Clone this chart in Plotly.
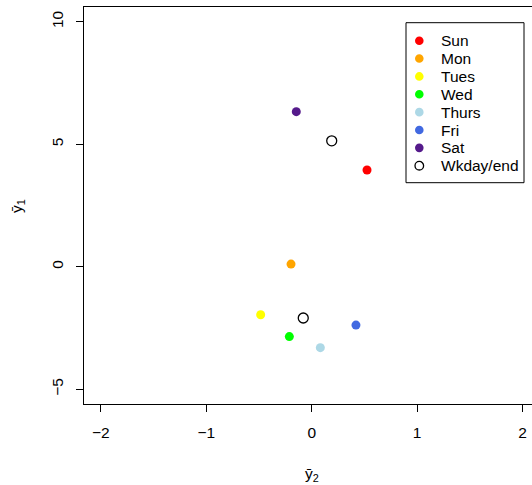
import plotly.graph_objects as go

days = ["Sun", "Mon", "Tues", "Wed", "Thurs", "Fri", "Sat"]
y2_day = [0.525, -0.196, -0.484, -0.212, 0.082, 0.42, -0.146]
y1_day = [3.95, 0.11, -1.96, -2.85, -3.30, -2.38, 6.33]
day_colors = ["#FF0000", "#FFA500", "#FFFF00", "#00FF00", "#ADD8E6", "#4169E1", "#551A8B"]

wk_label = "Wkday/end"
y2_wk = [0.19, -0.08]
y1_wk = [5.14, -2.09]

x_ticks = [-2, -1, 0, 1, 2]
y_ticks = [-5, 0, 5, 10]

FONT = "Liberation Sans, Arial, Helvetica, sans-serif"
W, H = 532, 485
ML, MR, MT, MB = 84, 0, 7, 81
PW, PH = W - ML - MR, H - MT - MB


def px_to_paper(px, py):
    return (px - ML) / PW, (H - MB - py) / PH


def fmt(t):
    return "\u2212" + str(-t) if t < 0 else str(t)


fig = go.Figure()
for d, xv, yv, c in zip(days, y2_day, y1_day, day_colors):
    fig.add_trace(go.Scatter(x=[xv], y=[yv], mode="markers", name=d, showlegend=False,
                             marker=dict(color=c, size=9, line=dict(width=0))))
fig.add_trace(go.Scatter(x=y2_wk, y=y1_wk, mode="markers", name=wk_label, showlegend=False,
                         marker=dict(color="black", size=10, symbol="circle-open",
                                     line=dict(color="black", width=1.3))))

# legend box (drawn like R's legend())
shapes = []
annotations = []
bx0, by0 = px_to_paper(406, 22.7)
bx1, by1 = px_to_paper(524, 182.7)
shapes.append(dict(type="rect", xref="paper", yref="paper", x0=bx0, x1=bx1, y0=by1, y1=by0,
                   line=dict(color="black", width=1), fillcolor="white", layer="above"))
labels = days + [wk_label]
for i, lab in enumerate(labels):
    py = 40.7 + i * 17.86
    mx, my = px_to_paper(419.3, py)
    tx, _ = px_to_paper(439, py)
    if i < len(days):
        shapes.append(dict(type="circle", xref="paper", yref="paper", xsizemode="pixel", ysizemode="pixel",
                           xanchor=mx, yanchor=my, x0=-4.3, x1=4.3, y0=-4.3, y1=4.3,
                           fillcolor=day_colors[i], line=dict(width=0), layer="above"))
    else:
        shapes.append(dict(type="circle", xref="paper", yref="paper", xsizemode="pixel", ysizemode="pixel",
                           xanchor=mx, yanchor=my, x0=-4.3, x1=4.3, y0=-4.3, y1=4.3,
                           fillcolor="rgba(0,0,0,0)", line=dict(width=1.3, color="black"), layer="above"))
    annotations.append(dict(text=lab, xref="paper", yref="paper", x=tx, y=my, xanchor="left",
                            yanchor="middle", showarrow=False, font=dict(size=15.5, color="black")))

# axis titles
xt, yt = px_to_paper(311.7, 474)
annotations.append(dict(text="\u0233<sub>2</sub>", xref="paper", yref="paper", x=xt, y=yt,
                        xanchor="center", yanchor="middle", showarrow=False, font=dict(size=15.5)))
xt, yt = px_to_paper(18, 206)
annotations.append(dict(text="\u0233<sub>1</sub>", xref="paper", yref="paper", x=xt, y=yt,
                        xanchor="center", yanchor="middle", textangle=-90, showarrow=False,
                        font=dict(size=15.5)))

fig.update_layout(
    width=W, height=H,
    margin=dict(l=ML, r=MR, t=MT, b=MB),
    plot_bgcolor="white", paper_bgcolor="white",
    font=dict(family=FONT, size=15.5, color="black"),
    showlegend=False,
    shapes=shapes, annotations=annotations,
    xaxis=dict(range=[-2.16, 2.09], tickvals=x_ticks, ticktext=[fmt(t) for t in x_ticks],
               automargin=False, ticklabelstandoff=7,
               showgrid=False, zeroline=False, showline=True, linecolor="black", linewidth=1,
               mirror=True, ticks="outside", ticklen=7, tickcolor="black"),
    yaxis=dict(range=[-5.6, 10.6], tickvals=y_ticks, ticktext=[fmt(t) for t in y_ticks],
               tickangle=-90, automargin=False, ticklabelstandoff=7,
               showgrid=False, zeroline=False, showline=True, linecolor="black", linewidth=1,
               mirror=False, ticks="outside", ticklen=7, tickcolor="black"),
)

fig.write_html("out.html", config={"displayModeBar": False},
               post_script="document.body.style.margin='0px';document.body.style.overflow='hidden';")
